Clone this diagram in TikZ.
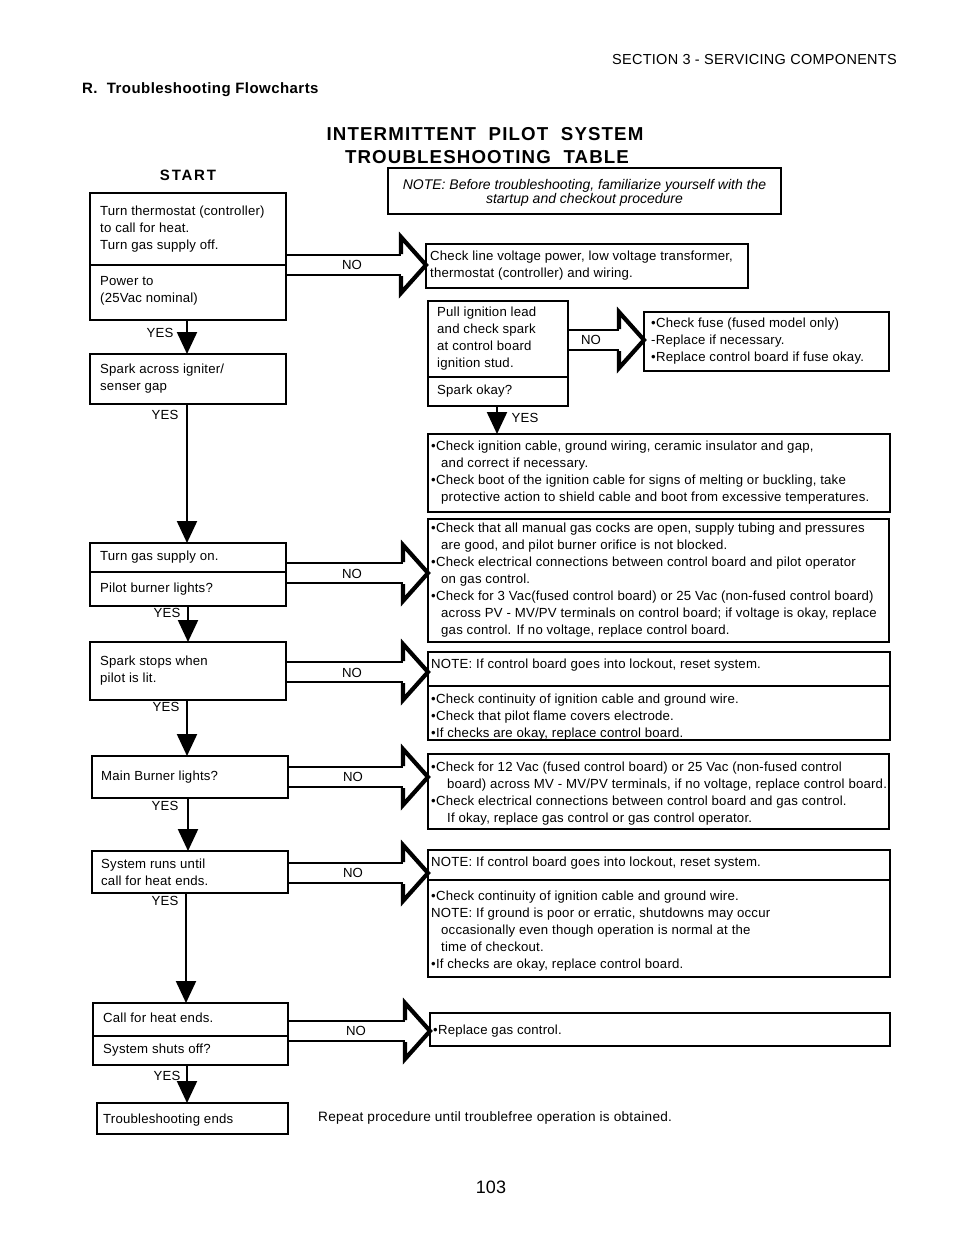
\documentclass[tikz,border=0pt]{standalone}
\usepackage{fontspec}
\setmainfont{Liberation Sans}
\usetikzlibrary{arrows.meta,calc}
\tikzset{
  frame/.style={draw, line width=1.4pt, rectangle, outer sep=0pt, inner sep=0pt},
  txt/.style={align=left, inner xsep=0pt, inner ysep=2pt,
     font=\fontsize{13.2}{17}\selectfont\addfontfeature{LetterSpace=1.5}},
  shaft/.style={line width=2.2pt, line cap=butt},
  headline/.style={line width=4.2pt, line join=miter},
  yesline/.style={line width=2.2pt, -{Triangle[width=20pt,length=22pt]}},
  lbl/.style={font=\fontsize{13.2}{15}\selectfont\addfontfeature{LetterSpace=1.5}, inner sep=0pt},
}
% box: [y offset of text] name, x, y, w, h, pad, text
\newcommand\bx[8][0]{%
  \node[frame, anchor=north west, minimum width=#5pt, minimum height=#6pt] (#2) at (#3,#4) {};
  \node[txt, anchor=west] (#2t) at ($(#2.west)+(#7,#1)$) {#8};}
% NO arrow: left node, right node, y centre
\newcommand\noarrow[3]{%
  \coordinate (s) at (#1.east |- 0,#3);
  \coordinate (t) at (#2.west |- 0,#3);
  \draw[shaft] ($(s)+(0,-10)$) -- ($(t)+(-25,-10)$);
  \draw[shaft] ($(s)+(0,10)$) -- ($(t)+(-25,10)$);
  \draw[headline] ($(t)+(-25,-11)$) -- ($(t)+(-25,-28)$) -- (t) -- ($(t)+(-25,28)$) -- ($(t)+(-25,11)$);
}
\begin{document}
\begin{tikzpicture}[x=1pt,y=-1pt]
\fill[white] (0,0) rectangle (954,1235);
\useasboundingbox (0,0) rectangle (954,1235);

% headers
\node[lbl, anchor=east, font=\fontsize{14.5}{16}\selectfont\addfontfeature{LetterSpace=2}] (sec) at (897,60) {SECTION 3 - SERVICING COMPONENTS};
\node[lbl, anchor=west, font=\bfseries\fontsize{15}{17}\selectfont\addfontfeature{LetterSpace=3}] (rt) at (82,90) {R.\ \ Troubleshooting Flowcharts};
\node[lbl, font=\bfseries\fontsize{18.7}{20}\selectfont\addfontfeature{LetterSpace=6}] (t1) at (485,134) {INTERMITTENT\ \ PILOT\ \ SYSTEM};
\node[lbl, font=\bfseries\fontsize{18.7}{20}\selectfont\addfontfeature{LetterSpace=6}] (t2) at (487,157) {TROUBLESHOOTING\ \ TABLE};
\node[lbl, font=\bfseries\fontsize{15}{17}\selectfont\addfontfeature{LetterSpace=12}] (start) at (188,175) {START};

\node[frame, anchor=north west, minimum width=393pt, minimum height=46pt] (note) at (388,168) {};
\node[align=center, inner sep=0pt, font=\itshape\fontsize{14}{14.5}\selectfont] (notet) at ($(note.center)+(0,2)$)
 {NOTE: Before troubleshooting, familiarize yourself with the\\startup and checkout procedure};

% left column
\bx{b1a}{90}{193}{196}{72}{10}{Turn thermostat (controller)\\to call for heat.\\Turn gas supply off.}
\bx[-2]{b1b}{90}{265}{196}{55}{10}{Power to\\(25Vac nominal)}
\bx{b2}{90}{354}{196}{50}{10}{Spark across igniter/\\senser gap}
\bx{b3a}{90}{543}{196}{29}{10}{Turn gas supply on.}
\bx{b3b}{90}{572}{196}{34}{10}{Pilot burner lights?}
\bx{b4}{90}{642}{196}{58}{10}{Spark stops when\\pilot is lit.}
\bx{b5}{92}{756}{196}{42}{9}{Main Burner lights?}
\bx{b6}{92}{851}{196}{42}{9}{System runs until\\call for heat ends.}
\bx[-2]{b7a}{93}{1003}{195}{33}{10}{Call for heat ends.}
\bx{b7b}{93}{1036}{195}{29}{10}{System shuts off?}
\bx[2]{b8}{97}{1103}{191}{31}{6}{Troubleshooting ends}

% middle / right
\bx{r1}{426}{244}{322}{44}{4}{Check line voltage power, low voltage transformer,\\thermostat (controller) and wiring.}
\bx{m1a}{428}{301}{140}{76}{9}{Pull ignition lead\\and check spark\\at control board\\ignition stud.}
\bx{m1b}{428}{377}{140}{29}{9}{Spark okay?}
\bx{m2}{644}{312}{245}{59}{7}{•Check fuse (fused model only)\\-Replace if necessary.\\•Replace control board if fuse okay.}
\bx{r2}{428}{434}{462}{78}{3}{•Check ignition cable, ground wiring, ceramic insulator and gap,\\
\hspace*{10pt}and correct if necessary.\\
•Check boot of the ignition cable for signs of melting or buckling, take\\
\hspace*{10pt}protective action to shield cable and boot from excessive temperatures.}
\bx{r3}{428}{519}{461}{123}{3}{•Check that all manual gas cocks are open, supply tubing and pressures\\
\hspace*{10pt}are good, and pilot burner orifice is not blocked.\\
•Check electrical connections between control board and pilot operator\\
\hspace*{10pt}on gas control.\\
•Check for 3 Vac(fused control board) or 25 Vac (non-fused control board)\\
\hspace*{10pt}across PV - MV/PV terminals on control board; if voltage is okay, replace\\
\hspace*{10pt}gas control. If no voltage, replace control board.}
\bx[-4]{r4a}{428}{652}{462}{34}{3}{NOTE: If control board goes into lockout, reset system.}
\bx[4]{r4b}{428}{686}{462}{54}{3}{•Check continuity of ignition cable and ground wire.\\
•Check that pilot flame covers electrode.\\
•If checks are okay, replace control board.}
\bx[2]{r5}{428}{754}{461}{75}{3}{•Check for 12 Vac (fused control board) or 25 Vac (non-fused control\\
\hspace*{16pt}board) across MV - MV/PV terminals, if no voltage, replace control board.\\
•Check electrical connections between control board and gas control.\\
\hspace*{16pt}If okay, replace gas control or gas control operator.}
\bx[-2]{r6a}{428}{850}{462}{30}{3}{NOTE: If control board goes into lockout, reset system.}
\bx[3]{r6b}{428}{880}{462}{97}{3}{•Check continuity of ignition cable and ground wire.\\
NOTE: If ground is poor or erratic, shutdowns may occur\\
\hspace*{10pt}occasionally even though operation is normal at the\\
\hspace*{10pt}time of checkout.\\
•If checks are okay, replace control board.}
\bx[2]{r7}{430}{1013}{460}{33}{3}{•Replace gas control.}

\node[lbl, anchor=west, font=\fontsize{13.6}{15}\selectfont\addfontfeature{LetterSpace=2}] (rep) at (318,1118) {Repeat procedure until troublefree operation is obtained.};
\node[lbl, font=\fontsize{18}{20}\selectfont] (pg) at (491,1187) {103};

% NO arrows
\noarrow{b1b}{r1}{265}
\node[lbl] at (352,265) {NO};
\noarrow{m1a}{m2}{340}
\node[lbl] at (591,340) {NO};
\noarrow{b3b}{r3}{573}
\node[lbl] at (352,574) {NO};
\noarrow{b4}{r4a}{672}
\node[lbl] at (352,673) {NO};
\noarrow{b5}{r5}{777}
\node[lbl] at (353,777) {NO};
\noarrow{b6}{r6a}{873}
\node[lbl] at (353,873) {NO};
\noarrow{b7a}{r7}{1031}
\node[lbl] at (356,1031) {NO};

% YES arrows
\draw[yesline] (b1b.south -| 187,0) -- (b2.north -| 187,0);
\node[lbl] at (160,333) {YES};
\draw[yesline] (b2.south -| 187,0) -- (b3a.north -| 187,0);
\node[lbl] at (165,415) {YES};
\draw[yesline] (b3b.south -| 188,0) -- (b4.north -| 188,0);
\node[lbl] at (167,613) {YES};
\draw[yesline] (b4.south -| 187,0) -- (b5.north -| 187,0);
\node[lbl] at (166,707) {YES};
\draw[yesline] (b5.south -| 188,0) -- (b6.north -| 188,0);
\node[lbl] at (165,806) {YES};
\draw[yesline] (b6.south -| 186,0) -- (b7a.north -| 186,0);
\node[lbl] at (165,901) {YES};
\draw[yesline] (b7b.south -| 187,0) -- (b8.north -| 187,0);
\node[lbl] at (167,1076) {YES};
\draw[yesline] (m1b.south -| 497,0) -- (r2.north -| 497,0);
\node[lbl] at (525,418) {YES};
\end{tikzpicture}
\end{document}
